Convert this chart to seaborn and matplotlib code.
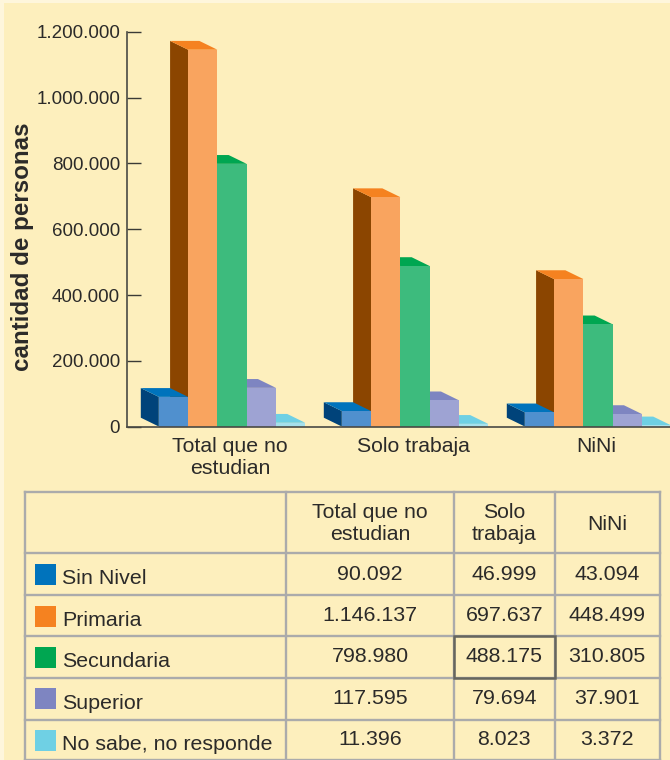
import matplotlib
matplotlib.use("Agg")
import matplotlib.pyplot as plt
import pandas as pd
import seaborn as sns
from matplotlib.patches import Polygon, Rectangle
from matplotlib.transforms import ScaledTranslation

# ---- data ----
groups = ["Total que no\nestudian", "Solo trabaja", "NiNi"]
table_headers = ["Total que no\nestudian", "Solo\ntrabaja", "NiNi"]
levels = ["Sin Nivel", "Primaria", "Secundaria", "Superior", "No sabe, no responde"]
sin_nivel = [90092, 46999, 43094]
primaria = [1146137, 697637, 448499]
secundaria = [798980, 488175, 310805]
superior = [117595, 79694, 37901]
no_sabe = [11396, 8023, 3372]
yticks = [0, 200000, 400000, 600000, 800000, 1000000, 1200000]
ytick_labels = ["0", "200.000", "400.000", "600.000", "800.000", "1.000.000", "1.200.000"]

# ---- styles ----
front = ["#5090CE", "#F9A45F", "#3DBB7D", "#9EA3D3", "#A6E0EC"]
top = ["#0073BC", "#F58220", "#00A651", "#7E85C1", "#6FD0E4"]
side = ["#00437A", "#8B4500", "#1F8A5C", "#5C629E", "#4FA9BE"]
swatch = ["#0073BC", "#F58220", "#00A651", "#7E85C1", "#6FD0E4"]
BG = "#FDEFBD"
EDGE = "#FEF6DC"
INK = "#2B2A29"
GRID = "#ABABAB"

sns.set_theme(style="white")
plt.rcParams["font.family"] = ["Liberation Sans", "DejaVu Sans"]

W, H = 670, 760
fig = plt.figure(figsize=(W / 100, H / 100), dpi=100, facecolor=EDGE)

# full-figure pixel canvas for the paper and the table
bgax = fig.add_axes([0, 0, 1, 1], zorder=0)
bgax.set_xlim(0, W)
bgax.set_ylim(H, 0)
bgax.axis("off")
bgax.add_patch(Rectangle((4, 3), W, H, fc=BG, ec="none"))

# ---- bar chart ----
px_left, px_right, px_top, px_zero = 127, 670, 32, 426.5
ax = fig.add_axes([px_left / W, (H - px_zero) / H, (px_right - px_left) / W, (px_zero - px_top) / H], zorder=1)
ax.patch.set_alpha(0)

rows = []
for level, vals in zip(levels, [sin_nivel, primaria, secundaria, superior, no_sabe]):
    for g, v in zip(groups, vals):
        rows.append({"grupo": g, "nivel": level, "personas": v})
df = pd.DataFrame(rows)

sns.barplot(data=df, x="grupo", y="personas", hue="nivel", order=groups, hue_order=levels,
            palette=front, saturation=1, width=0.8, gap=0, legend=False, ax=ax,
            linewidth=0.6, edgecolor="none")

ax.set_xlim(-105 / 183, 438 / 183)
ax.set_ylim(0, 1200000)

# pseudo-3D depth, derived from each seaborn bar
DX = -18 / 183
DY = 8.8 / 394.5 * 1200000
for i, cont in enumerate(ax.containers):
    z = 2 - i * 0.1
    for bar in cont:
        bar.set_zorder(z + 0.01)
        x0, x1, h = bar.get_x(), bar.get_x() + bar.get_width(), bar.get_height()
        ax.add_patch(Polygon([(x0, 0), (x0, h), (x0 + DX, h + DY), (x0 + DX, DY)],
                             closed=True, fc=side[i], ec="none", zorder=z))
        ax.add_patch(Polygon([(x0, h), (x1, h), (x1 + DX, h + DY), (x0 + DX, h + DY)],
                             closed=True, fc=top[i], ec="none", zorder=z))

sns.despine(ax=ax, top=True, right=True)
for s in ("left", "bottom"):
    ax.spines[s].set_color("#4A4A44")
    ax.spines[s].set_linewidth(1.2)
    ax.spines[s].set_zorder(2.5)

ax.set_yticks(yticks)
ax.set_yticklabels(ytick_labels, fontsize=13.5, color=INK)
ax.tick_params(axis="y", direction="in", length=10, width=1.0, color="#3A3A36", pad=5, left=True)
ax.tick_params(axis="x", length=0, pad=7.2)
ax.set_xticks(range(len(groups)))
ax.set_xticklabels(groups, fontsize=15.3, color=INK, linespacing=1.2)
shift = ScaledTranslation(-2 / 100, 0, fig.dpi_scale_trans)
for lab in ax.get_xticklabels():
    lab.set_transform(lab.get_transform() + shift)
ax.set_xlabel("")
ax.set_ylabel("")
fig.text(23 / W, 1 - 246.5 / H, "cantidad de personas", rotation=90, fontsize=17.4, fontweight="bold",
         color=INK, ha="center", va="center")

# ---- table ----
col_x = [25, 286, 454, 554.5, 660]
row_y = [492, 553, 595, 636, 677.5, 719.5, 759.5]
for x in col_x:
    bgax.plot([x, x], [row_y[0], row_y[-1]], color=GRID, lw=1.7, solid_capstyle="projecting", zorder=2)
for y in row_y:
    bgax.plot([col_x[0], col_x[-1]], [y, y], color=GRID, lw=1.7, solid_capstyle="projecting", zorder=2)

# highlighted cell
bgax.add_patch(Rectangle((col_x[2], row_y[3]), col_x[3] - col_x[2], row_y[4] - row_y[3],
                         fc="none", ec="#66665E", lw=1.8, zorder=3))

for j, head in enumerate(table_headers):
    bgax.text((col_x[j + 1] + col_x[j + 2]) / 2, (row_y[0] + row_y[1]) / 2 + 1.5, head, ha="center", va="center",
              fontsize=15.3, color=INK, linespacing=1.2, zorder=4)

columns = [sin_nivel, primaria, secundaria, superior, no_sabe]
for r, (level, vals) in enumerate(zip(levels, columns)):
    y0, y1 = row_y[r + 1], row_y[r + 2]
    ym = (y0 + y1) / 2
    bgax.add_patch(Rectangle((35, y0 + 10.5), 21, 21, fc=swatch[r], ec="none", zorder=4))
    bgax.text(62, ym + 5, level, ha="left", va="center", fontsize=15.4, color=INK, zorder=4)
    for j, v in enumerate(vals):
        label = f"{v:,}".replace(",", ".")
        bgax.text((col_x[j + 1] + col_x[j + 2]) / 2, ym, label, ha="center", va="center",
                  fontsize=15.4, color=INK, zorder=4)

fig.savefig("out.png", dpi=100, facecolor=fig.get_facecolor())
